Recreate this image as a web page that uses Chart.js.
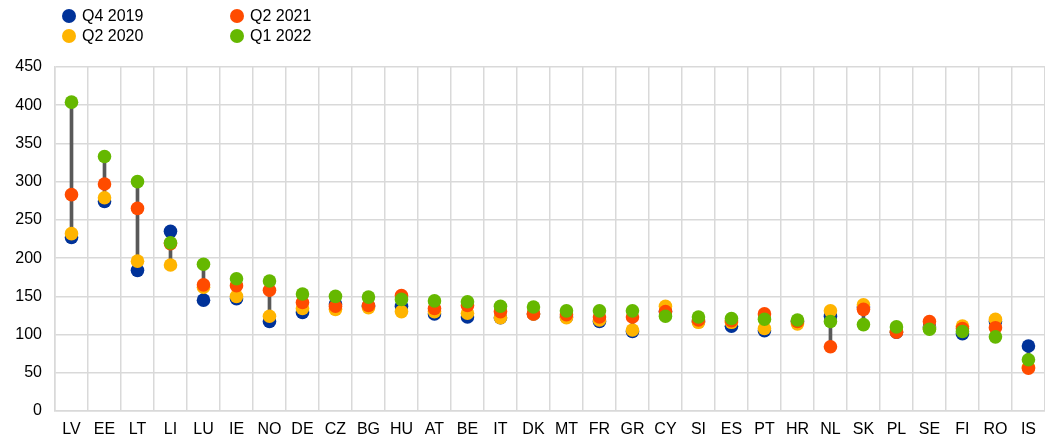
<!DOCTYPE html>
<html>
<head>
<meta charset="utf-8">
<script src="https://cdn.jsdelivr.net/npm/chart.js@4/dist/chart.umd.min.js"></script>
<style>
  body { margin: 0; background: #fff; font-family: "Liberation Sans", Arial, sans-serif; }
  #wrap { position: relative; width: 1045px; height: 439px; }
  #legend { position: absolute; left: 0; top: 0; }
  .item { position: absolute; font-size: 16px; line-height: 18px; color: #000; white-space: nowrap; }
  .dot { position: absolute; width: 14px; height: 14px; border-radius: 50%; left: -20px; top: 2px; }
</style>
</head>
<body>
<div id="wrap">
  <canvas id="mychart" width="1045" height="439"></canvas>
  <div id="legend"></div>
</div>
<script>
const countries = ['LV','EE','LT','LI','LU','IE','NO','DE','CZ','BG','HU','AT','BE','IT','DK','MT','FR','GR','CY','SI','ES','PT','HR','NL','SK','PL','SE','FI','RO','IS'];
const yTicks = [0, 50, 100, 150, 200, 250, 300, 350, 400, 450];

const q4_2019 = [227,274,184,235,145,147,117,129,140,137,137,127,123,122,127,123,117,104,130,117,111,105,117,124,136,103,110,101,117,85];
const q2_2020 = [232,279,196,191,162,150,124,134,133,135,130,130,128,122,127,122,119,106,137,116,116,108,114,131,139,104,108,111,120,57];
const q2_2021 = [283,297,265,219,165,164,158,142,137,138,151,134,138,130,127,126,123,123,130,119,118,127,117,84,133,103,117,108,109,56];
const q1_2022 = [404,333,300,220,192,173,170,153,150,149,146,144,143,137,136,131,131,131,124,123,121,120,119,117,113,110,107,104,97,67];

const seriesNames = ['Q4 2019', 'Q2 2020', 'Q2 2021', 'Q1 2022'];
const seriesColors = ['#003299', '#ffb400', '#ff4b00', '#65b800'];
const seriesData = [q4_2019, q2_2020, q2_2021, q1_2022];

// grey range line from lowest to highest value per country
let ranges = countries.map((c, i) => {
    let vals = seriesData.map(s => s[i]);
    return [Math.min(...vals), Math.max(...vals)];
});

let datasets = [{
    type: 'bar',
    label: 'range',
    data: ranges,
    backgroundColor: '#595959',
    barThickness: 3,
    order: 10
}];
seriesData.forEach((d, k) => {
    datasets.push({
        type: 'line',
        label: seriesNames[k],
        data: d,
        showLine: false,
        pointRadius: 6.8,
        pointHoverRadius: 6.8,
        pointBorderWidth: 0,
        pointBackgroundColor: seriesColors[k],
        borderColor: seriesColors[k],
        order: 4 - k
    });
});

// legend, two columns
const legendPos = [[82, 7], [82, 27], [250, 7], [250, 27]];
let str = '';
seriesNames.forEach((n, k) => {
    str += `<div class="item" style="left:${legendPos[k][0]}px;top:${legendPos[k][1]}px"><span class="dot" style="background:${seriesColors[k]}"></span>${n}</div>`;
});
document.querySelector('#legend').innerHTML = str;

Chart.defaults.font.family = '"Liberation Sans", Arial, sans-serif';
Chart.defaults.font.size = 16;
Chart.defaults.color = '#000';

const ctx = document.getElementById('mychart').getContext('2d');
new Chart(ctx, {
    type: 'bar',
    data: { labels: countries, datasets: datasets },
    options: {
        responsive: false,
        animation: false,
        events: [],
        layout: { autoPadding: false, padding: { top: 67, left: 0, right: 0, bottom: 0 } },
        plugins: { legend: { display: false }, tooltip: { enabled: false } },
        scales: {
            x: {
                grid: { color: '#d9d9d9', lineWidth: 1.5, drawTicks: false, offset: true },
                border: { color: '#d9d9d9', width: 1.5 },
                ticks: { padding: 9, maxRotation: 0, autoSkip: false },
                afterFit: s => { s.height = 28; }
            },
            y: {
                min: 0,
                max: 450,
                afterBuildTicks: s => { s.ticks = yTicks.map(v => ({ value: v })); },
                grid: { color: '#d9d9d9', lineWidth: 1.5, drawTicks: false },
                border: { color: '#d9d9d9', width: 1.5 },
                ticks: { padding: 13 },
                afterFit: s => { s.width = 55; }
            }
        }
    }
});
</script>
</body>
</html>
